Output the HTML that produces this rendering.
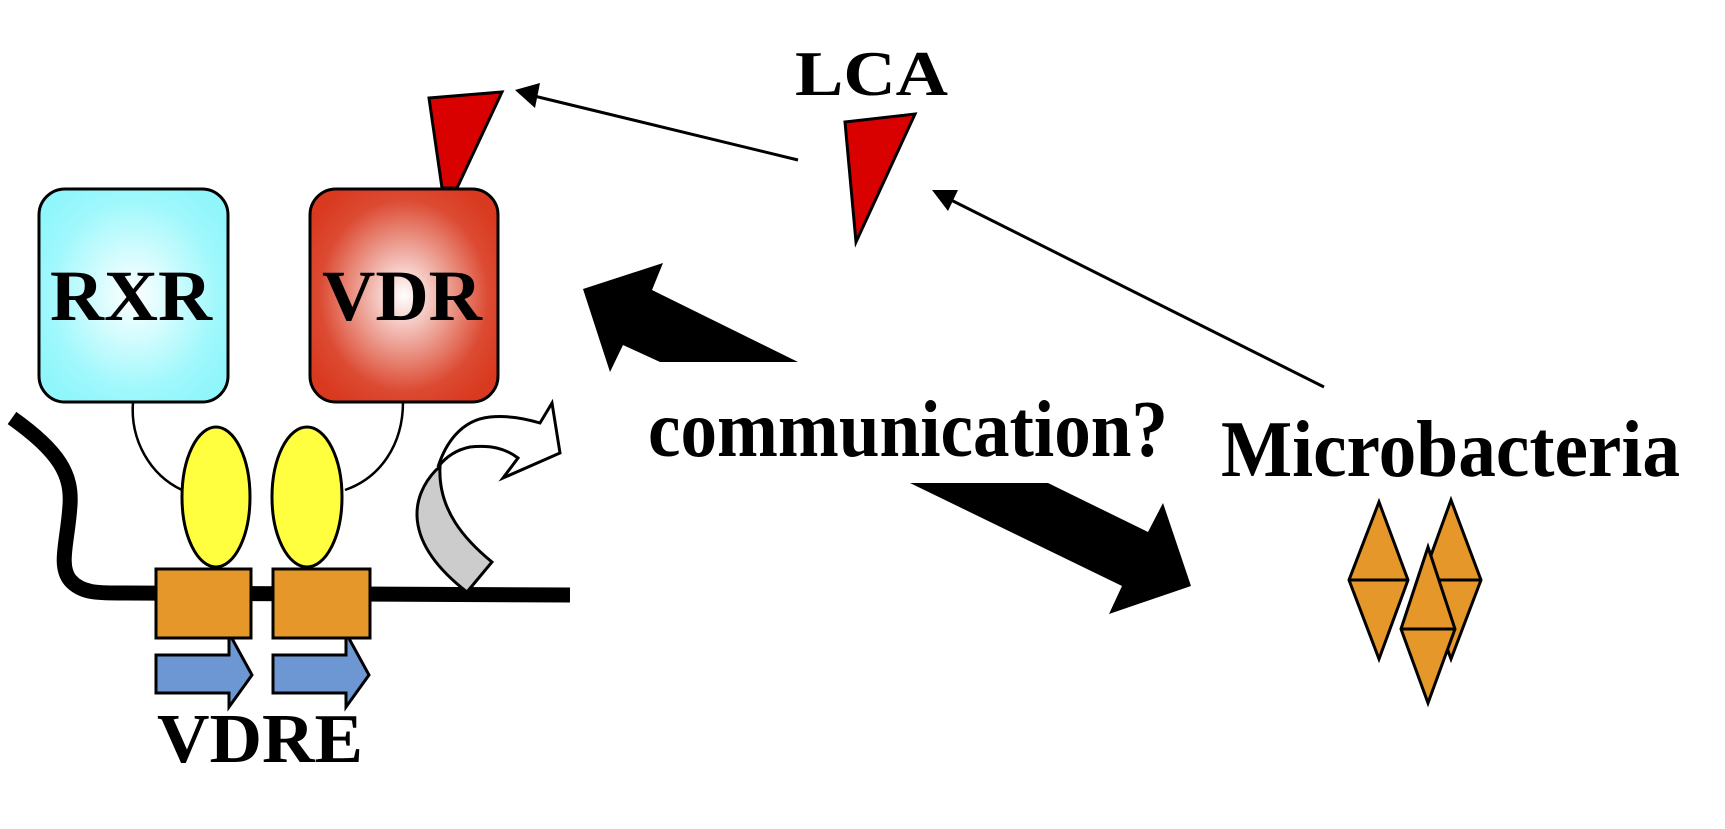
<!DOCTYPE html>
<html><head><meta charset="utf-8"><style>
html,body{margin:0;padding:0;background:#fff;width:1725px;height:829px;overflow:hidden}
text{font-family:"Liberation Serif",serif;font-weight:bold;fill:#000}
</style></head><body>
<svg width="1725" height="829" viewBox="0 0 1725 829" xmlns="http://www.w3.org/2000/svg">
<defs>
<radialGradient id="cy" cx="50%" cy="50%" r="60%"><stop offset="0" stop-color="#fff"/><stop offset="0.75" stop-color="#9ef8fc"/><stop offset="1" stop-color="#90f6fb"/></radialGradient>
<radialGradient id="rd" cx="50%" cy="50%" r="60%"><stop offset="0" stop-color="#fff"/><stop offset="0.75" stop-color="#dc4a32"/><stop offset="1" stop-color="#d9391f"/></radialGradient>
</defs>
<!-- thin connectors -->
<path d="M133,402 C130,440 150,475 182,490" fill="none" stroke="#000" stroke-width="2.5"/>
<path d="M403,402 C403,445 380,478 345,490" fill="none" stroke="#000" stroke-width="2.5"/>
<!-- boxes -->
<rect x="39" y="189" width="189" height="213" rx="26" fill="url(#cy)" stroke="#000" stroke-width="3"/>
<rect x="310" y="189" width="188" height="213" rx="26" fill="url(#rd)" stroke="#000" stroke-width="3"/>
<text x="50" y="320" font-size="72" textLength="162" lengthAdjust="spacingAndGlyphs">RXR</text>
<text x="322" y="320" font-size="72" textLength="160" lengthAdjust="spacingAndGlyphs">VDR</text>
<!-- red triangles -->
<polygon points="429,98 502,92 457,188 442,188" fill="#d90000" stroke="#000" stroke-width="3" stroke-linejoin="miter"/>
<polygon points="845,122 915,114 856,242" fill="#d90000" stroke="#000" stroke-width="3"/>
<!-- LCA -->
<text x="795" y="95" font-size="64" textLength="153" lengthAdjust="spacingAndGlyphs">LCA</text>
<!-- thin arrows -->
<line x1="798" y1="160" x2="530" y2="95" stroke="#000" stroke-width="3"/>
<polygon points="515,90 535,108 540,83" fill="#000"/>
<line x1="1324" y1="387" x2="945" y2="197" stroke="#000" stroke-width="3"/>
<polygon points="932,190 948,211 958,190" fill="#000"/>
<!-- big arrows -->
<polygon points="583,289 663,263 652,290 798,362 660,362 623,345 610,372" fill="#000"/>
<polygon points="910,483 1048,483 1148,532 1163,503 1191,586 1109,614 1122,586" fill="#000"/>
<text x="648" y="456" font-size="80" textLength="520" lengthAdjust="spacingAndGlyphs">communication?</text>
<text x="1221" y="476" font-size="80" textLength="459" lengthAdjust="spacingAndGlyphs">Microbacteria</text>
<!-- diamonds -->
<g fill="#e5972a" stroke="#000" stroke-width="3" stroke-linejoin="miter">
<polygon points="1379,502 1408,580 1379,659 1349,580"/><line x1="1349" y1="580" x2="1408" y2="580"/>
<polygon points="1451,500 1481,580 1451,659 1422,580"/><line x1="1422" y1="580" x2="1481" y2="580"/>
<polygon points="1428,547 1455,629 1428,703 1401,629"/><line x1="1401" y1="629" x2="1455" y2="629"/>
</g>
<!-- DNA -->
<path d="M12,418 C60,452 72,475 70,505 C68,540 58,565 70,580 C82,594 100,593 125,593 L570,595" fill="none" stroke="#000" stroke-width="15"/>
<!-- gray & white curved arrows -->
<path d="M467,592 L492,562 C465,540 438,510 440,467 L436,470 C412,495 400,540 467,592 Z" fill="#ccc" stroke="#000" stroke-width="3"/>
<path d="M438,467 C445,445 460,420 490,417 C510,415 530,420 540,423 L552,403 L560,453 L503,478 L518,458 C505,448 490,445 470,447 C455,450 445,458 438,467 Z" fill="#fff" stroke="#000" stroke-width="3"/>
<!-- blue arrows -->
<g fill="#6d97d2" stroke="#000" stroke-width="3">
<polygon points="156,655 229,655 229,633 252,675 229,707 229,693 156,693"/>
<polygon points="273,655 346,655 346,633 369,675 346,707 346,693 273,693"/>
</g>
<!-- orange -->
<rect x="156" y="569" width="95" height="69" fill="#e5972a" stroke="#000" stroke-width="3"/>
<rect x="273" y="569" width="97" height="69" fill="#e5972a" stroke="#000" stroke-width="3"/>
<!-- yellow -->
<ellipse cx="216" cy="497" rx="34" ry="70" fill="#ffff40" stroke="#000" stroke-width="3"/>
<ellipse cx="307" cy="497" rx="35" ry="70" fill="#ffff40" stroke="#000" stroke-width="3"/>
<text x="157" y="762" font-size="70" textLength="206" lengthAdjust="spacingAndGlyphs">VDRE</text>
</svg>
</body></html>
